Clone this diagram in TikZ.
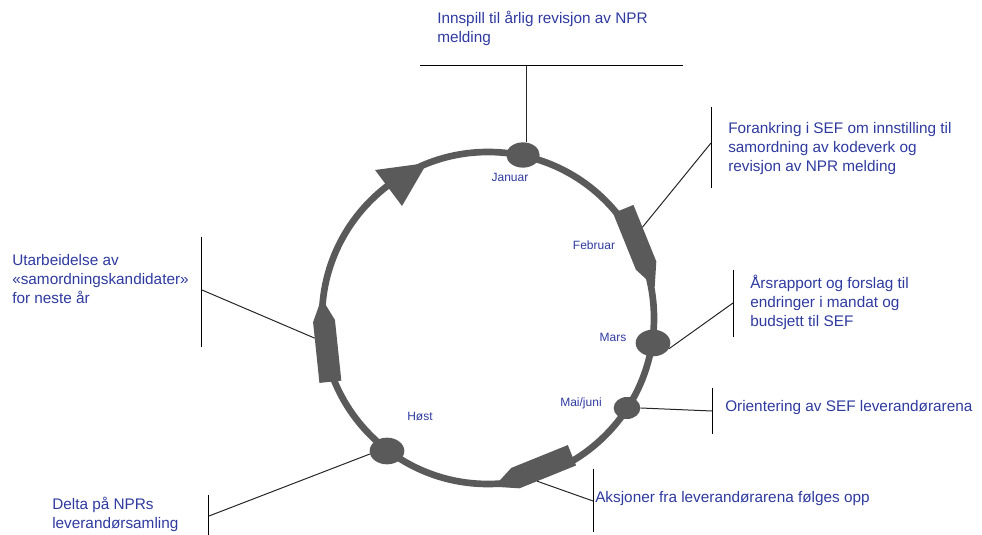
\documentclass[tikz,border=0pt]{standalone}
\usepackage{fontspec}
\setmainfont{Liberation Sans}
\usetikzlibrary{shapes.geometric}
\definecolor{ringgray}{RGB}{90,90,90}
\definecolor{textblue}{RGB}{46,58,160}

\tikzset{
  ring/.style={draw=ringgray, line width=5pt},
  stop/.style={ellipse, fill=ringgray, inner sep=0pt},
  month/.style={text=textblue, font=\fontsize{9}{11}\selectfont, inner sep=0pt},
  note/.style={text=textblue, font=\fontsize{11.5}{14.25}\selectfont, align=left, anchor=base west, inner sep=0pt},
  bar/.style={draw=black, line width=0.75pt},
  lead/.style={draw=black!85, line width=0.75pt},
  blockarrow/.pic={
    \fill[ringgray] (-42,-11) -- (19,-11) -- (42,0) -- (19,11) -- (-42,11) -- cycle;
    \coordinate (-side) at (#1,11);
  },
}

\begin{document}
\begin{tikzpicture}[x=0.75pt, y=0.75pt]
  \useasboundingbox (-488,-217) rectangle (494,318);
  % the year wheel
  \draw[ring] (0,0) circle (166);
  \fill[ringgray] (-113,148) -- (-61,155) -- (-86,112) -- cycle;
  \pic[rotate=-68] (feb) at (151,70) {blockarrow=-18};
  \pic[rotate=96] (utk) at (-162,-22) {blockarrow=3};
  \pic[rotate=202] (akt) at (45,-153) {blockarrow=0};
  % stops on the wheel
  \node[stop, minimum width=25pt, minimum height=19pt] (jan) at (35,163) {};
  \node[stop, minimum width=26pt, minimum height=20pt] (mars) at (165,-25) {};
  \node[stop, minimum width=20pt, minimum height=16.5pt] (mai) at (139,-90) {};
  \node[stop, minimum width=26pt, minimum height=20pt] (host) at (-101,-133) {};
  % months
  \node[month] (janlbl) at (22,141) {Januar};
  \node[month] (feblbl) at (106,73) {Februar};
  \node[month] (marslbl) at (125,-19) {Mars};
  \node[month] (mailbl) at (93,-85) {Mai/juni};
  \node[month] (hostlbl) at (-68,-98) {Høst};
  % notes (anchored at the baseline of the last line)
  \node[note] (innspill) at (-51,275) {Innspill til årlig revisjon av NPR\\melding};
  \node[note] (forank) at (240,146) {Forankring i SEF om innstilling til\\samordning av kodeverk og\\revisjon av NPR melding};
  \node[note] (arsrap) at (262,-9) {Årsrapport og forslag til\\endringer i mandat og\\budsjett til SEF};
  \node[note] (orient) at (237,-94) {Orientering av SEF leverandørarena};
  \node[note] (aksjon) at (107,-185) {Aksjoner fra leverandørarena følges opp};
  \node[note] (delta) at (-436,-210) {Delta på NPRs\\leverandørsamling};
  \node[note] (utarb) at (-476,14) {Utarbeidelse av\\«samordningskandidater»\\for neste år};
  % brackets and leads
  \coordinate (innbar) at (39,252);
  \draw[bar] (innbar) ++(-107,0) -- ++(263,0);
  \draw[lead] (innbar) -- (innbar |- jan.north);
  \coordinate (forbar) at (223,175);
  \draw[bar] (forbar) ++(0,36) -- ++(0,-81);
  \draw[lead] (forbar) -- (feb-side);
  \coordinate (arsbar) at (245,15);
  \draw[bar] (arsbar) ++(0,33) -- ++(0,-67);
  \draw[lead] (arsbar) -- (mars.-20);
  \coordinate (oribar) at (224,-93);
  \draw[bar] (oribar) ++(0,23) -- ++(0,-46);
  \draw[lead] (oribar) -- (mai.east);
  \coordinate (aksbar) at (105,-183);
  \draw[bar] (aksbar) ++(0,32) -- ++(0,-63);
  \draw[lead] (aksbar) -- (akt-side);
  \coordinate (delbar) at (-279,-198);
  \draw[bar] (delbar) ++(0,21) -- ++(0,-40);
  \draw[lead] (delbar) -- (host.190);
  \coordinate (utbar) at (-286,28);
  \draw[bar] (utbar) ++(0,53) -- ++(0,-110);
  \draw[lead] (utbar) -- (utk-side);
\end{tikzpicture}
\end{document}
